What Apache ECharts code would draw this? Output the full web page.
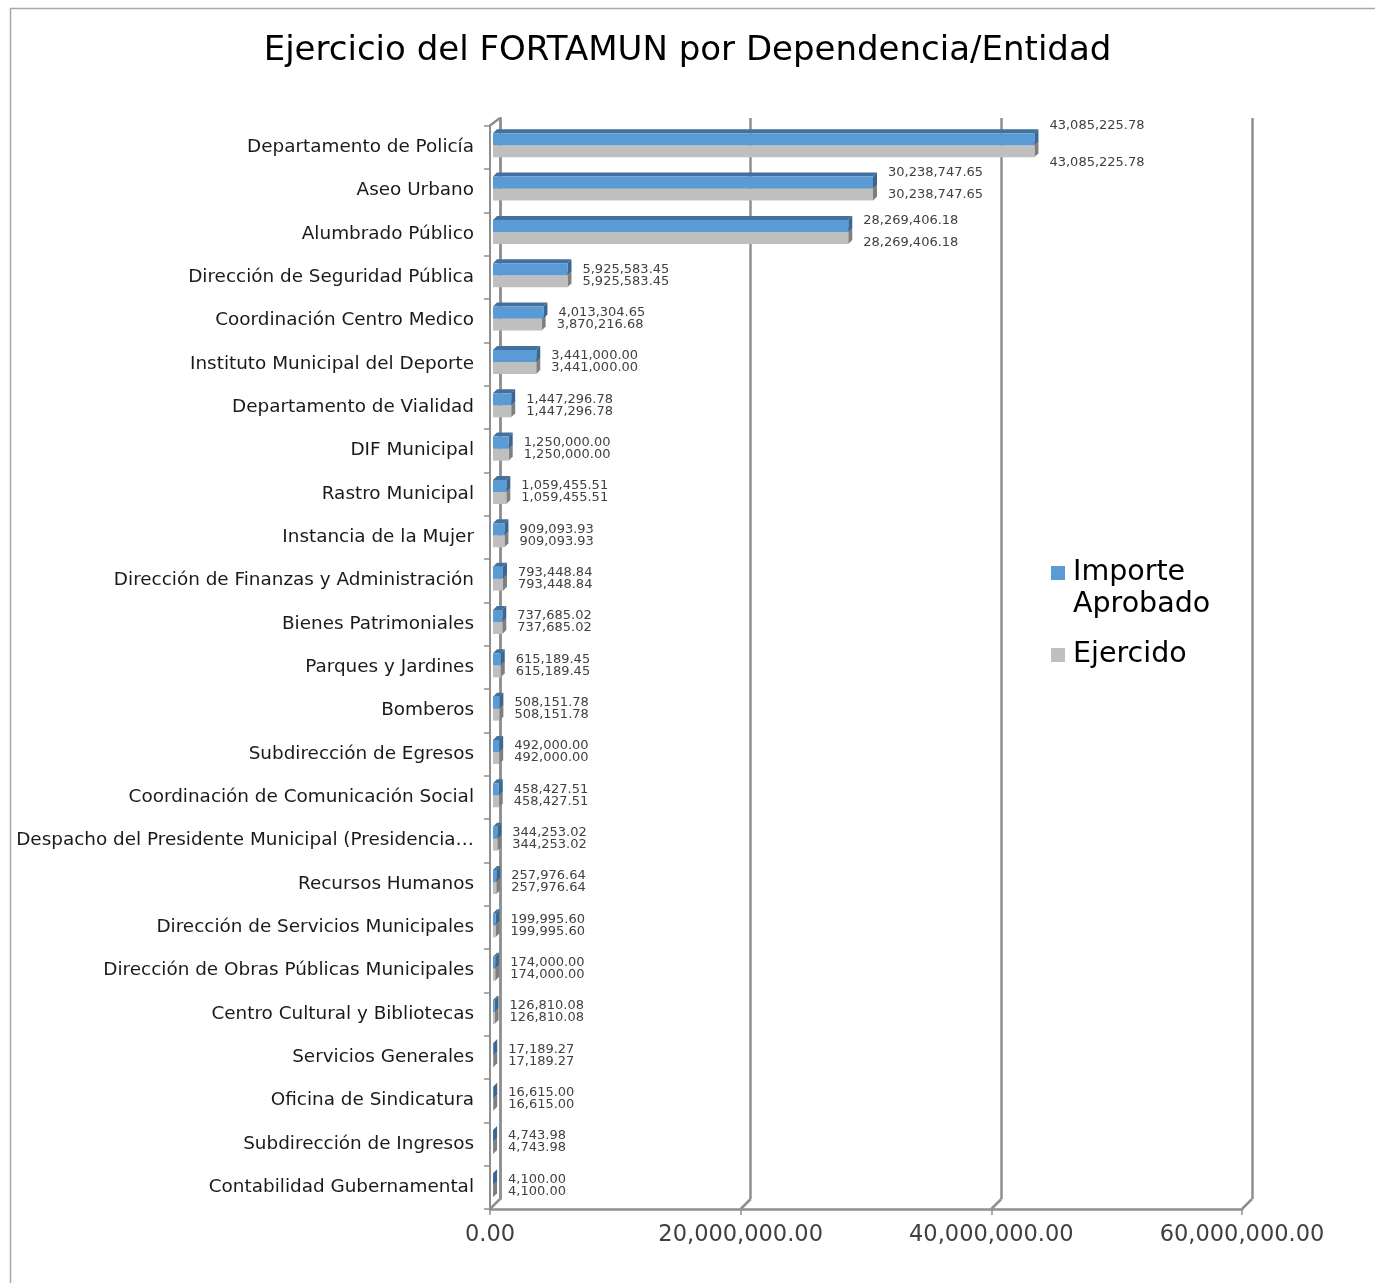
<!DOCTYPE html>
<html>
<head>
<meta charset="utf-8">
<script src="https://cdn.jsdelivr.net/npm/echarts@6/dist/echarts.min.js"></script>
<style>
  html, body { margin: 0; padding: 0; background: #fff; }
  #main { width: 1375px; height: 1283px; }
</style>
</head>
<body>
<div id="main"></div>
<script>
const categories = [
  "Departamento de Policía",
  "Aseo Urbano",
  "Alumbrado Público",
  "Dirección de Seguridad Pública",
  "Coordinación Centro Medico",
  "Instituto Municipal del Deporte",
  "Departamento de Vialidad",
  "DIF Municipal",
  "Rastro Municipal",
  "Instancia de la Mujer",
  "Dirección de Finanzas y Administración",
  "Bienes Patrimoniales",
  "Parques y Jardines",
  "Bomberos",
  "Subdirección de Egresos",
  "Coordinación de Comunicación Social",
  "Despacho del Presidente Municipal (Presidencia…",
  "Recursos Humanos",
  "Dirección de Servicios Municipales",
  "Dirección de Obras Públicas Municipales",
  "Centro Cultural y Bibliotecas",
  "Servicios Generales",
  "Oficina de Sindicatura",
  "Subdirección de Ingresos",
  "Contabilidad Gubernamental"
];
const aprobado = [
  43085225.78, 30238747.65, 28269406.18, 5925583.45, 4013304.65, 3441000.0,
  1447296.78, 1250000.0, 1059455.51, 909093.93, 793448.84, 737685.02,
  615189.45, 508151.78, 492000.0, 458427.51, 344253.02, 257976.64,
  199995.6, 174000.0, 126810.08, 17189.27, 16615.0, 4743.98, 4100.0
];
const ejercido = [
  43085225.78, 30238747.65, 28269406.18, 5925583.45, 3870216.68, 3441000.0,
  1447296.78, 1250000.0, 1059455.51, 909093.93, 793448.84, 737685.02,
  615189.45, 508151.78, 492000.0, 458427.51, 344253.02, 257976.64,
  199995.6, 174000.0, 126810.08, 17189.27, 16615.0, 4743.98, 4100.0
];
const xTicks = [0, 20000000, 40000000, 60000000];

// label nudges for the long bars (Excel moved them apart)
const blueShift = { 0: [0, -14], 1: [0, -10], 2: [0, -5] };
const grayShift = { 0: [0, 11], 1: [0, 0], 2: [0, 5] };

const FONT = "DejaVu Sans";
const AXIS_GRAY = "#8f8f8f";
const BLUE = "#5b9bd5";
const GRAY = "#bfbfbf";
const BAR_W = 12;
const DEPTH = 4;

const fmt = v =>
  Number(v).toLocaleString("en-US", { minimumFractionDigits: 2, maximumFractionDigits: 2 });

const chart = echarts.init(document.getElementById("main"));

// 3D top + side faces of the bars
function renderFaces(params, api) {
  const val = api.value(0);
  const cat = api.value(1);
  const s = api.value(2);
  const p0 = api.coord([0, cat]);
  const p1 = api.coord([val, cat]);
  const x0 = p0[0];
  const x1 = p1[0];
  const c = p1[1];
  const yt = s === 0 ? c - BAR_W : c;
  const yb = yt + BAR_W;
  const d = DEPTH;
  const dark = s === 0 ? "#41719c" : "#8c8c8c";
  const side = s === 0 ? "#3a6690" : "#7f7f7f";
  return {
    type: "group",
    children: [
      {
        type: "polygon",
        shape: { points: [[x0, yt], [x1, yt], [x1 + d, yt - d], [x0 + d, yt - d]] },
        style: { fill: dark }
      },
      {
        type: "polygon",
        shape: { points: [[x1, yt], [x1 + d, yt - d], [x1 + d, yb - d], [x1, yb]] },
        style: { fill: side }
      }
    ]
  };
}

const faceData = [];
ejercido.forEach((v, i) => faceData.push([v, i, 1]));
aprobado.forEach((v, i) => faceData.push([v, i, 0]));

const labelBase = {
  show: true,
  position: "right",
  distance: 15,
  fontFamily: FONT,
  fontSize: 13,
  color: "#404040",
  formatter: p => fmt(p.value)
};

const option = {
  backgroundColor: "#fff",
  animation: false,
  title: {
    text: "Ejercicio del FORTAMUN por Dependencia/Entidad",
    left: "center",
    top: 29,
    textStyle: { fontFamily: FONT, fontSize: 34, fontWeight: "normal", color: "#000" }
  },
  legend: [
    {
      data: [{ name: "Importe Aprobado", icon: "rect" }],
      orient: "vertical",
      left: 1051,
      top: 525,
      padding: 0,
      itemWidth: 14,
      itemHeight: 14,
      // leading blank line keeps the marker level with the first line
      formatter: () => "\nImporte\nAprobado",
      textStyle: { fontFamily: FONT, fontSize: 28.5, lineHeight: 32, color: "#000", padding: [0, 0, 0, 3] }
    },
    {
      data: [{ name: "Ejercido", icon: "rect" }],
      orient: "vertical",
      left: 1051,
      top: 639,
      padding: 0,
      itemWidth: 14,
      itemHeight: 14,
      textStyle: { fontFamily: FONT, fontSize: 28.5, lineHeight: 32, color: "#000", padding: [0, 0, 0, 3] }
    }
  ],
  grid: [
    // front plane: axes
    { left: 490, right: 133, top: 125.6, bottom: 74 },
    // back wall: gridlines
    { left: 500, right: 123, top: 118, bottom: 84 },
    // bars
    { left: 493, right: 128, top: 123.6, bottom: 76 }
  ],
  xAxis: [
    {
      gridIndex: 0,
      type: "value",
      min: 0,
      max: 60000000,
      interval: 20000000,
      axisLine: { show: true, lineStyle: { color: AXIS_GRAY, width: 2.5 } },
      axisTick: { show: true, length: 6, lineStyle: { color: AXIS_GRAY, width: 1.5 } },
      splitLine: { show: false },
      axisLabel: {
        fontFamily: FONT,
        fontSize: 22.5,
        color: "#404040",
        margin: 15,
        formatter: v => fmt(v)
      }
    },
    {
      gridIndex: 1,
      type: "value",
      min: 0,
      max: 60000000,
      interval: 20000000,
      axisLine: { show: false },
      axisTick: { show: false },
      axisLabel: { show: false },
      splitLine: { show: true, lineStyle: { color: AXIS_GRAY, width: 2.5 } }
    },
    {
      gridIndex: 2,
      type: "value",
      min: 0,
      max: 60000000,
      show: false
    }
  ],
  yAxis: [
    {
      gridIndex: 0,
      type: "category",
      inverse: true,
      data: categories,
      axisLine: { show: true, lineStyle: { color: AXIS_GRAY, width: 2 } },
      axisTick: { show: true, length: 6, lineStyle: { color: AXIS_GRAY, width: 1.5 } },
      axisLabel: {
        fontFamily: FONT,
        fontSize: 18.4,
        color: "#1a1a1a",
        margin: 16
      }
    },
    {
      gridIndex: 1,
      type: "category",
      inverse: true,
      data: categories,
      axisLine: { show: true, lineStyle: { color: AXIS_GRAY, width: 2.5 } },
      axisTick: { show: false },
      axisLabel: { show: false }
    },
    {
      gridIndex: 2,
      type: "category",
      inverse: true,
      data: categories,
      show: false
    }
  ],
  series: [
    {
      type: "custom",
      xAxisIndex: 2,
      yAxisIndex: 2,
      z: 1,
      silent: true,
      renderItem: renderFaces,
      encode: { x: 0, y: 1 },
      data: faceData
    },
    {
      name: "Importe Aprobado",
      type: "bar",
      xAxisIndex: 2,
      yAxisIndex: 2,
      z: 3,
      barWidth: BAR_W,
      barGap: "0%",
      itemStyle: { color: BLUE },
      label: labelBase,
      data: aprobado.map((v, i) => ({ value: v, label: { offset: blueShift[i] || [0, 0] } }))
    },
    {
      name: "Ejercido",
      type: "bar",
      xAxisIndex: 2,
      yAxisIndex: 2,
      z: 2,
      barWidth: BAR_W,
      barGap: "0%",
      itemStyle: { color: GRAY },
      label: labelBase,
      data: ejercido.map((v, i) => ({ value: v, label: { offset: grayShift[i] || [0, 0] } }))
    }
  ]
};

chart.setOption(option);

// connect front plane and back wall (Excel 3D frame)
function frameLines() {
  const model = chart.getModel();
  const front = model.getComponent("grid", 0).coordinateSystem.getRect();
  const back = model.getComponent("grid", 1).coordinateSystem.getRect();
  const lines = [];
  const lineStyle = { stroke: AXIS_GRAY, lineWidth: 2.5 };
  xTicks.forEach(v => {
    const xf = chart.convertToPixel({ xAxisIndex: 0 }, v);
    const xb = chart.convertToPixel({ xAxisIndex: 1 }, v);
    lines.push({
      type: "line",
      shape: { x1: xf, y1: front.y + front.height, x2: xb, y2: back.y + back.height },
      style: lineStyle,
      z: 5
    });
  });
  lines.push({
    type: "line",
    shape: { x1: front.x, y1: front.y, x2: back.x, y2: back.y },
    style: lineStyle,
    z: 5
  });
  lines.push({
    type: "rect",
    shape: { x: 10.5, y: 8.5, width: 1500, height: 1500 },
    style: { fill: null, stroke: "#a9a9a9", lineWidth: 1.5 },
    z: 0
  });
  chart.setOption({ graphic: lines });
}
frameLines();
</script>
</body>
</html>
